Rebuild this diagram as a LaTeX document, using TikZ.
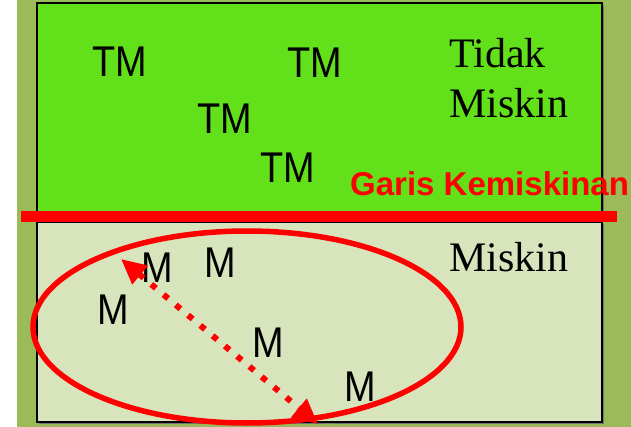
\documentclass[tikz,border=0pt]{standalone}
\usepackage{fontspec}
\setmainfont{Liberation Serif}
\newfontfamily\arialf{Liberation Sans}
\usetikzlibrary{arrows.meta,shapes.geometric}
\definecolor{olive}{HTML}{9BBB59}
\definecolor{lime}{HTML}{62E01A}
\definecolor{pale}{HTML}{D8E4BC}
\definecolor{redline}{HTML}{FF0000}
\tikzset{
  panel/.style={draw=black, line width=1.5pt},
  tm/.style={inner sep=0pt, anchor=base, font=\arialf\fontsize{43}{43}\selectfont},
  serif/.style={inner sep=0pt, anchor=base west, font=\fontsize{42}{42}\selectfont},
  garis/.style={inner sep=0pt, anchor=base west, text=redline, font=\arialf\bfseries\fontsize{33}{33}\selectfont},
}
\newcommand{\nar}[1]{\scalebox{0.88}[1]{#1}}
\begin{document}
\begin{tikzpicture}[x=1pt,y=-1pt]
\useasboundingbox (0,0) rectangle (631,427);
\fill[white] (0,0) rectangle (631,427);
\fill[olive] (17,0) rectangle (631,427);
% shadows
\fill[black!55] (39,5) rectangle (604,218);
\fill[black!55] (39,224) rectangle (604,424);
\filldraw[panel, fill=lime] (37,3) rectangle (602,216);
\filldraw[panel, fill=pale] (37,222) rectangle (602,422);
% red poverty line
\fill[redline] (21,211) rectangle (617,222);
% texts top
\node[tm] (tm1) at (120,77) {\nar{TM}};
\node[tm] (tm2) at (315,78) {\nar{TM}};
\node[tm] (tm3) at (225,134) {\nar{TM}};
\node[tm] (tm4) at (288,183) {\nar{TM}};
\node[serif] (tidak) at (449,68) {Tidak};
\node[serif] (miskin1) at (449,118) {Miskin};
\node[garis] (garis) at (350,196) {Garis Kemiskinan};
\node[serif] (miskin2) at (449,272) {Miskin};
% ellipse
\node[draw=redline, line width=5.5pt, ellipse, minimum width=428pt, minimum height=192pt, inner sep=0pt] (ell) at (247,327) {};
% M texts
\node[tm] (m1) at (157,283) {\nar{M}};
\node[tm] (m2) at (220,277) {\nar{M}};
\node[tm] (m3) at (113,324) {\nar{M}};
\node[tm] (m4) at (268,357) {\nar{M}};
\node[tm] (m5) at (360,401) {\nar{M}};
% dotted arrow
\coordinate (a1) at (121,259);
\coordinate (a2) at (318,424);
\draw[redline, line width=6pt, dash pattern=on 6pt off 10pt,
  {Triangle[length=25pt,width=23pt]}-{Triangle[length=25pt,width=23pt]}] (a1) -- (a2);
\end{tikzpicture}
\end{document}
